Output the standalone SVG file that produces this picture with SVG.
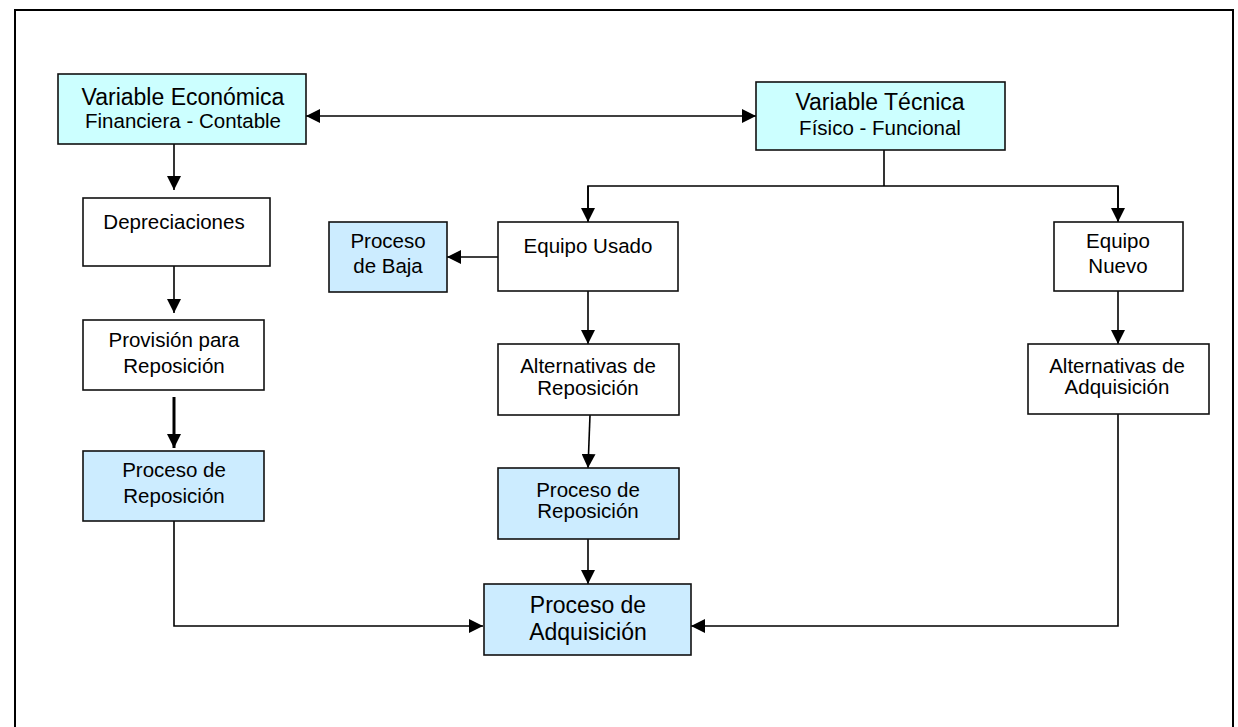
<svg xmlns="http://www.w3.org/2000/svg" width="1238" height="727" viewBox="0 0 1238 727">
  <style>
    .box { stroke: #111; stroke-width: 1.6; }
    .var { fill: #CCFFFF; }
    .proc { fill: #CCECFF; }
    .plain { fill: #FFFFFF; }
    text { font-family: "Liberation Sans", Arial, sans-serif; fill: #000; text-anchor: middle; }
    .t20 { font-size: 20.5px; }
    .t23 { font-size: 23px; }
    .wire { fill: none; stroke: #000; stroke-width: 1.6; }
    .thick { stroke-width: 3; }
  </style>
  <defs>
    <marker id="head" viewBox="0 0 14 14" refX="14" refY="7" markerWidth="14" markerHeight="14" markerUnits="userSpaceOnUse" orient="auto-start-reverse">
      <path d="M0,0 L14,7 L0,14 Z" fill="#000"/>
    </marker>
  </defs>

  <rect width="1238" height="727" fill="#FFFFFF"/>
  <!-- outer frame -->
  <rect x="15" y="10" width="1218" height="722" fill="none" stroke="#000" stroke-width="2"/>

  <!-- connectors -->
  <g id="connectors">
    <line class="wire" x1="306" y1="116" x2="756" y2="116" marker-start="url(#head)" marker-end="url(#head)"/>
    <line class="wire" x1="174" y1="144" x2="174" y2="190" marker-end="url(#head)"/>
    <line class="wire" x1="174" y1="266" x2="174" y2="313" marker-end="url(#head)"/>
    <line class="wire thick" x1="174" y1="397" x2="174" y2="448" marker-end="url(#head)"/>
    <polyline class="wire" points="174,521 174,626 483,626" marker-end="url(#head)"/>
    <polyline class="wire" points="884,150 884,186"/>
    <polyline class="wire" points="588,222 588,186 1118,186 1118,222" />
    <line class="wire" x1="588" y1="186" x2="588" y2="222" marker-end="url(#head)"/>
    <line class="wire" x1="1118" y1="186" x2="1118" y2="222" marker-end="url(#head)"/>
    <line class="wire" x1="498" y1="257" x2="447" y2="257" marker-end="url(#head)"/>
    <line class="wire" x1="588" y1="291" x2="588" y2="344" marker-end="url(#head)"/>
    <line class="wire" x1="590" y1="415" x2="588" y2="468" marker-end="url(#head)"/>
    <line class="wire" x1="588" y1="539" x2="588" y2="584" marker-end="url(#head)"/>
    <line class="wire" x1="1118" y1="291" x2="1118" y2="344" marker-end="url(#head)"/>
    <polyline class="wire" points="1118,414 1118,626 691,626" marker-end="url(#head)"/>
  </g>

  <g id="variable-economica">
    <rect class="box var" x="58" y="74" width="248" height="70"/>
    <text class="t23" x="183" y="105">Variable Económica</text>
    <text class="t20" x="183" y="128">Financiera - Contable</text>
  </g>

  <g id="variable-tecnica">
    <rect class="box var" x="756" y="82" width="249" height="68"/>
    <text class="t23" x="880" y="110">Variable Técnica</text>
    <text class="t20" x="880" y="135">Físico - Funcional</text>
  </g>

  <g id="depreciaciones">
    <rect class="box plain" x="83" y="198" width="187" height="68"/>
    <text class="t20" x="174" y="229">Depreciaciones</text>
  </g>

  <g id="provision">
    <rect class="box plain" x="83" y="320" width="181" height="70"/>
    <text class="t20" x="174" y="347">Provisión para</text>
    <text class="t20" x="174" y="373">Reposición</text>
  </g>

  <g id="proceso-reposicion-izq">
    <rect class="box proc" x="83" y="451" width="181" height="70"/>
    <text class="t20" x="174" y="477">Proceso de</text>
    <text class="t20" x="174" y="503">Reposición</text>
  </g>

  <g id="proceso-baja">
    <rect class="box proc" x="329" y="222" width="118" height="70"/>
    <text class="t20" x="388" y="248">Proceso</text>
    <text class="t20" x="388" y="273">de Baja</text>
  </g>

  <g id="equipo-usado">
    <rect class="box plain" x="498" y="222" width="180" height="69"/>
    <text class="t20" x="588" y="253">Equipo Usado</text>
  </g>

  <g id="equipo-nuevo">
    <rect class="box plain" x="1054" y="222" width="129" height="69"/>
    <text class="t20" x="1118" y="248">Equipo</text>
    <text class="t20" x="1118" y="273">Nuevo</text>
  </g>

  <g id="alternativas-reposicion">
    <rect class="box plain" x="498" y="344" width="181" height="71"/>
    <text class="t20" x="588" y="373">Alternativas de</text>
    <text class="t20" x="588" y="395">Reposición</text>
  </g>

  <g id="alternativas-adquisicion">
    <rect class="box plain" x="1028" y="344" width="181" height="70"/>
    <text class="t20" x="1117" y="373">Alternativas de</text>
    <text class="t20" x="1117" y="394">Adquisición</text>
  </g>

  <g id="proceso-reposicion-centro">
    <rect class="box proc" x="498" y="468" width="181" height="71"/>
    <text class="t20" x="588" y="497">Proceso de</text>
    <text class="t20" x="588" y="518">Reposición</text>
  </g>

  <g id="proceso-adquisicion">
    <rect class="box proc" x="484" y="584" width="207" height="71"/>
    <text class="t23" x="588" y="613">Proceso de</text>
    <text class="t23" x="588" y="640">Adquisición</text>
  </g>
</svg>
